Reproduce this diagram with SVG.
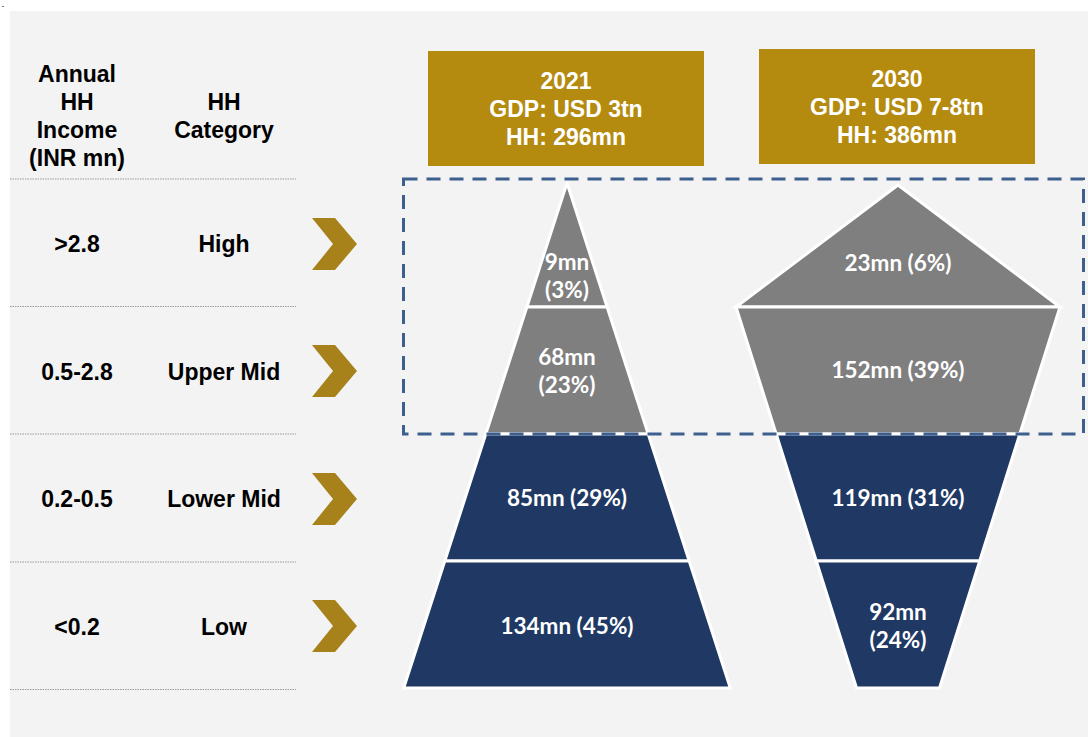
<svg xmlns="http://www.w3.org/2000/svg" width="1088" height="737" viewBox="0 0 1088 737">
<style>
.hd{font-family:"Liberation Sans",Arial,sans-serif;font-weight:bold;font-size:23px;fill:#000;text-anchor:middle}
.hw{font-family:"Liberation Sans",Arial,sans-serif;font-weight:bold;font-size:23px;fill:#fff;text-anchor:middle}
.pv{font-family:Lato,"Open Sans",sans-serif;font-weight:bold;font-size:22.5px;fill:#fff;text-anchor:middle}
.sep{stroke:#9a9a9a;stroke-width:1.2;stroke-dasharray:1.5 1}
.gold{fill:#b48a0f}
.chev{fill:#a7821b}
.gray{fill:#7f7f7f;stroke:#fff;stroke-width:3;stroke-linejoin:miter}
.navy{fill:#1f3864;stroke:#fff;stroke-width:3;stroke-linejoin:miter}
</style>
<rect x="0" y="0" width="1088" height="737" fill="#ffffff"/>
<rect x="10" y="11" width="1078" height="726" fill="#f3f3f3"/>
<text x="2" y="6.5" font-family="Liberation Sans,sans-serif" font-weight="bold" font-size="7" fill="#000">.</text>

<g id="header-left">
<text class="hd" x="77" y="82">Annual</text>
<text class="hd" x="77" y="110">HH</text>
<text class="hd" x="77" y="138">Income</text>
<text class="hd" x="77" y="166">(INR mn)</text>
<text class="hd" x="224" y="110">HH</text>
<text class="hd" x="224" y="138">Category</text>
</g>

<g id="separators">
<line class="sep" x1="10" y1="179" x2="296" y2="179"/>
<line class="sep" x1="10" y1="306.5" x2="296" y2="306.5"/>
<line class="sep" x1="10" y1="434" x2="296" y2="434"/>
<line class="sep" x1="10" y1="562" x2="296" y2="562"/>
<line class="sep" x1="10" y1="689.5" x2="296" y2="689.5"/>
</g>

<g id="row-high">
<text class="hd" x="77" y="252">&gt;2.8</text>
<text class="hd" x="224" y="252">High</text>
<polygon class="chev" points="312,218 335,218 357,244 335,270 312,270 333,244"/>
</g>
<g id="row-uppermid">
<text class="hd" x="77" y="380">0.5-2.8</text>
<text class="hd" x="224" y="380">Upper Mid</text>
<polygon class="chev" points="312,345 335,345 357,371 335,397 312,397 333,371"/>
</g>
<g id="row-lowermid">
<text class="hd" x="77" y="507">0.2-0.5</text>
<text class="hd" x="224" y="507">Lower Mid</text>
<polygon class="chev" points="312,473 335,473 357,499 335,525 312,525 333,499"/>
</g>
<g id="row-low">
<text class="hd" x="77" y="635">&lt;0.2</text>
<text class="hd" x="224" y="635">Low</text>
<polygon class="chev" points="312,600 335,600 357,626 335,652 312,652 333,626"/>
</g>

<g id="box-2021">
<rect class="gold" x="428" y="51" width="276" height="115"/>
<text class="hw" x="566" y="89">2021</text>
<text class="hw" x="566" y="117">GDP: USD 3tn</text>
<text class="hw" x="566" y="145">HH: 296mn</text>
</g>
<g id="box-2030">
<rect class="gold" x="759" y="49" width="276" height="115"/>
<text class="hw" x="897" y="87">2030</text>
<text class="hw" x="897" y="115">GDP: USD 7-8tn</text>
<text class="hw" x="897" y="143">HH: 386mn</text>
</g>

<g id="pyr2021-high">
<polygon class="gray" points="567,183 607.1,307 526.9,307"/>
<text class="pv" x="567" y="270">9mn</text>
<text class="pv" x="567" y="298">(3%)</text>
</g>
<g id="pyr2021-uppermid">
<polygon class="gray" points="526.9,307 607.1,307 648.2,434 485.8,434"/>
<text class="pv" x="567" y="365">68mn</text>
<text class="pv" x="567" y="393">(23%)</text>
</g>
<g id="pyr2021-lowermid">
<polygon class="navy" points="485.8,434 648.2,434 689.2,561 444.8,561"/>
<text class="pv" x="567" y="506">85mn (29%)</text>
</g>
<g id="pyr2021-low">
<polygon class="navy" points="444.8,561 689.2,561 730.3,688 403.7,688"/>
<text class="pv" x="567" y="634">134mn (45%)</text>
</g>

<g id="pyr2030-high">
<polygon class="gray" points="898,185 1060,307 736,307"/>
<text class="pv" x="898" y="271">23mn (6%)</text>
</g>
<g id="pyr2030-uppermid">
<polygon class="gray" points="736,307 1060,307 1019.8,434 776.2,434"/>
<text class="pv" x="898" y="378">152mn (39%)</text>
</g>
<g id="pyr2030-lowermid">
<polygon class="navy" points="776.2,434 1019.8,434 979.7,561 816.3,561"/>
<text class="pv" x="898" y="506">119mn (31%)</text>
</g>
<g id="pyr2030-low">
<polygon class="navy" points="816.3,561 979.7,561 939.5,688 856.5,688"/>
<text class="pv" x="898" y="620">92mn</text>
<text class="pv" x="898" y="648">(24%)</text>
</g>

<g id="highlight">
<rect x="403.5" y="179" width="680" height="255" fill="none" stroke="#3c5f8d" stroke-width="3" stroke-dasharray="14 9"/>
</g>
</svg>
